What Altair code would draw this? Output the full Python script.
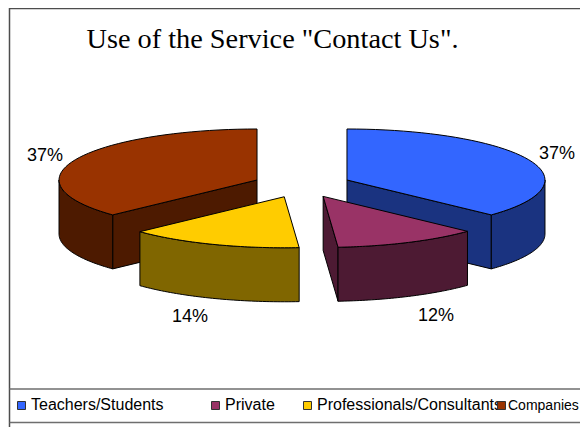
import math
import altair as alt
import pandas as pd

# Data
categories = ["Teachers/Students", "Private", "Professionals/Consultants", "Companies"]
values = [37.0, 11.8, 14.2, 37.0]
labels = ["37%", "12%", "14%", "37%"]
top_colors = ["#3366FF", "#993366", "#FFCC00", "#993300"]
side_colors = ["#1A3380", "#4D1A33", "#806600", "#4D1A00"]
title_text = 'Use of the Service "Contact Us".'

# Layout (in page pixels)
CX, CY, RX, RY, DEPTH, EXPLODE = 302, 185, 198, 51, 54, 49
label_x = [557, 436, 190, 45]
label_y = [159, 321, 322, 161]
legend_box_x = [21.5, 215.5, 307.5, 501.5]
legend_text_x = [31, 225, 317, 508]
legend_font = [16, 16, 16, 14]
LEG_Y_BOX, LEG_Y_TEXT = 405.5, 410
W, H = 572, 419

xs = alt.X("x:Q", scale=alt.Scale(domain=[8, 8 + W], range=[0, W], nice=False, zero=False), axis=None)
ys = alt.Y("y:Q", scale=alt.Scale(domain=[8, 8 + H], range=[0, H], nice=False, zero=False), axis=None)


def pt(cx, cy, deg, r=1.0):
    a = math.radians(deg)
    return cx + RX * r * math.sin(a), cy - RY * r * math.cos(a)


def poly(points, fill):
    pts = list(points) + [points[0]]
    df = pd.DataFrame({"x": [p[0] for p in pts], "y": [p[1] for p in pts], "i": range(len(pts))})
    return alt.Chart(df).mark_line(fill=fill, stroke="#000000", strokeWidth=1, strokeJoin="round").encode(
        x=xs, y=ys, order="i:Q"
    )


def arc(cx, cy, a0, a1, n=48):
    return [pt(cx, cy, a0 + (a1 - a0) * k / n) for k in range(n + 1)]


def shifted(pts):
    return [(x, y + DEPTH) for x, y in pts]


angles = []
acc = 0.0
total = sum(values)
for v in values:
    start = acc / total * 360
    acc += v
    angles.append((start, acc / total * 360))

slices = {}
for i, (a0, a1) in enumerate(angles):
    mid = (a0 + a1) / 2
    cx, cy = pt(CX, CY, mid, EXPLODE / RX)
    slices[i] = (cx, cy, a0, a1)

layers = []
frame_color = "#4d4d4d"
layers += [
    alt.Chart(pd.DataFrame({"y": [8.5]})).mark_rule(color=frame_color, strokeWidth=1.5).encode(y=ys, x=alt.value(1.5), x2=alt.value(W)),
    alt.Chart(pd.DataFrame({"x": [9.5]})).mark_rule(color=frame_color, strokeWidth=1.5).encode(x=xs, y=alt.value(0), y2=alt.value(H)),
    alt.Chart(pd.DataFrame({"y": [389, 422.5]})).mark_rule(color="#6e6e6e", strokeWidth=1.5).encode(y=ys, x=alt.value(1.5), x2=alt.value(W)),
]

for i in [0, 3, 1, 2]:
    cx, cy, a0, a1 = slices[i]
    top = [(cx, cy)] + arc(cx, cy, a0, a1)
    vis0, vis1 = max(a0, 90), min(a1, 270)
    if i in (0, 1):
        e = pt(cx, cy, a1)
        layers.append(poly([(cx, cy), e, (e[0], e[1] + DEPTH), (cx, cy + DEPTH)], side_colors[i]))
    if i == 3:
        e = pt(cx, cy, a0)
        layers.append(poly([(cx, cy), e, (e[0], e[1] + DEPTH), (cx, cy + DEPTH)], side_colors[i]))
    outer = arc(cx, cy, vis0, vis1)
    layers.append(poly(outer + shifted(outer)[::-1], side_colors[i]))
    layers.append(poly(top, top_colors[i]))

layers.append(
    alt.Chart(pd.DataFrame({"x": [272.5], "y": [48], "t": [title_text]}))
    .mark_text(font="Liberation Serif", fontSize=28.3, align="center", baseline="alphabetic", color="#000000")
    .encode(x=xs, y=ys, text="t:N")
)
layers.append(
    alt.Chart(pd.DataFrame({"x": label_x, "y": label_y, "t": labels}))
    .mark_text(font="Liberation Sans", fontSize=18, align="center", baseline="alphabetic", color="#000000")
    .encode(x=xs, y=ys, text="t:N")
)
for i, c in enumerate(categories):
    layers.append(
        alt.Chart(pd.DataFrame({"x": [legend_box_x[i]], "y": [LEG_Y_BOX]}))
        .mark_square(size=64, fill=top_colors[i], stroke="#333333", strokeWidth=1, opacity=1)
        .encode(x=xs, y=ys)
    )
    layers.append(
        alt.Chart(pd.DataFrame({"x": [legend_text_x[i]], "y": [LEG_Y_TEXT], "t": [c]}))
        .mark_text(font="Liberation Sans", fontSize=legend_font[i], align="left", baseline="alphabetic", color="#000000")
        .encode(x=xs, y=ys, text="t:N")
    )

chart = (
    alt.layer(*layers)
    .properties(width=W, height=H, padding=0, autosize=alt.AutoSizeParams(type="none"), background="#ffffff")
    .configure_view(stroke=None)
)
chart.save("out.html", embed_options={"renderer": "svg", "actions": False})
